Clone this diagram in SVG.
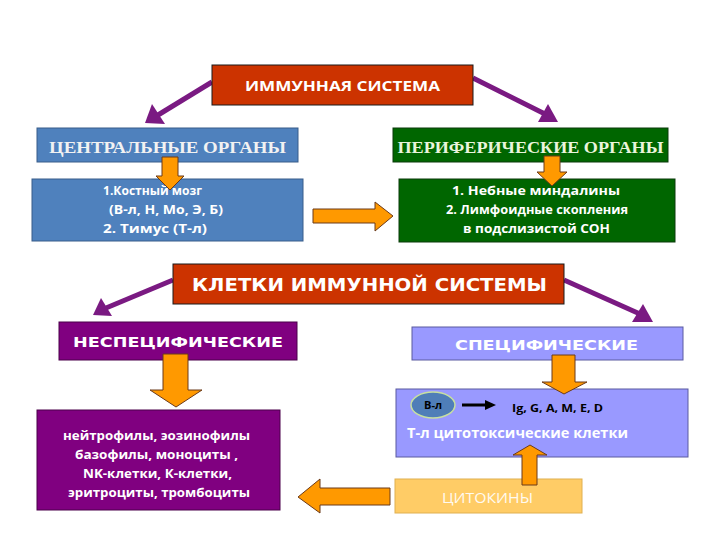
<svg xmlns="http://www.w3.org/2000/svg" width="720" height="540" viewBox="0 0 720 540">
<defs>
<style>
.t{font-family:"Open Sans","Noto Sans","Liberation Sans",sans-serif;font-weight:bold;fill:#ffffff}
.tm{font-family:"Liberation Serif","Times New Roman",serif;font-weight:bold}
.tv{font-family:"DejaVu Sans","Verdana",sans-serif;font-weight:bold;fill:#ffffff}
.oa{fill:#FF9900;stroke:#6B3A1A;stroke-width:1}
.pl{stroke:#7A1A82;stroke-width:5;fill:none}
.ph{fill:#7A1A82}
</style>
</defs>
<rect width="720" height="540" fill="#ffffff"/>

<g id="connectors">
  <line class="pl" x1="212" y1="82" x2="158" y2="115"/>
  <polygon class="ph" points="145,123 152,104 165,124"/>
  <line class="pl" x1="473" y1="78" x2="545" y2="114"/>
  <polygon class="ph" points="558,122 538,122 548,104"/>
  <line class="pl" x1="173" y1="280" x2="106" y2="308"/>
  <polygon class="ph" points="93,315 101,298 112,316"/>
  <line class="pl" x1="564" y1="280" x2="640" y2="314"/>
  <polygon class="ph" points="653,322 632,322 643,304"/>
</g>

<g id="immune-system">
  <rect x="212" y="65" width="261" height="40" fill="#CC3300" stroke="#1a1a1a" stroke-width="1"/>
  <text class="t" x="342.5" y="91" font-size="15" text-anchor="middle" textLength="195" lengthAdjust="spacingAndGlyphs">ИММУННАЯ СИСТЕМА</text>
</g>

<g id="central">
  <rect x="37" y="128" width="261" height="34" fill="#4F81BD" stroke="#385D8A" stroke-width="1"/>
  <text class="tm" x="167.5" y="153" font-size="16" fill="#F2F2F2" text-anchor="middle" textLength="237" lengthAdjust="spacingAndGlyphs">ЦЕНТРАЛЬНЫЕ ОРГАНЫ</text>
</g>

<g id="central-detail">
  <rect x="32" y="179" width="271" height="62" fill="#4F81BD" stroke="#385D8A" stroke-width="1"/>
  <text class="t" font-size="12.5">
    <tspan x="103" y="195" textLength="99" lengthAdjust="spacingAndGlyphs">1.Костный мозг</tspan>
    <tspan x="109" y="214" textLength="114" lengthAdjust="spacingAndGlyphs">(В-л, Н, Мо, Э, Б)</tspan>
    <tspan x="103" y="233" textLength="104" lengthAdjust="spacingAndGlyphs">2. Тимус (Т-л)</tspan>
  </text>
</g>

<g id="peripheral">
  <rect x="393" y="128" width="275" height="34" fill="#006600" stroke="#0a3a0a" stroke-width="1"/>
  <text class="tm" x="530.5" y="153" font-size="16" fill="#EAF5DD" text-anchor="middle" textLength="266" lengthAdjust="spacingAndGlyphs">ПЕРИФЕРИЧЕСКИЕ ОРГАНЫ</text>
</g>

<g id="peripheral-detail">
  <rect x="399" y="179" width="276" height="63" fill="#006600" stroke="#0a3a0a" stroke-width="1"/>
  <text class="t" font-size="12.5">
    <tspan x="452" y="195" textLength="168" lengthAdjust="spacingAndGlyphs">1.   Небные миндалины</tspan>
    <tspan x="446" y="214" textLength="182" lengthAdjust="spacingAndGlyphs">2. Лимфоидные скопления</tspan>
    <tspan x="463" y="233" textLength="147" lengthAdjust="spacingAndGlyphs">в подслизистой СОН</tspan>
  </text>
</g>

<g id="cells">
  <rect x="173" y="264" width="391" height="40" fill="#CC3300" stroke="#1a1a1a" stroke-width="1"/>
  <text class="tv" x="369.5" y="291" font-size="17" text-anchor="middle" textLength="355" lengthAdjust="spacingAndGlyphs">КЛЕТКИ ИММУННОЙ СИСТЕМЫ</text>
</g>

<g id="nonspecific">
  <rect x="59" y="322" width="238" height="38" fill="#800080" stroke="#4a004a" stroke-width="1"/>
  <text class="tv" x="178" y="347" font-size="14" text-anchor="middle" textLength="210" lengthAdjust="spacingAndGlyphs">НЕСПЕЦИФИЧЕСКИЕ</text>
</g>

<g id="nonspecific-detail">
  <rect x="37" y="410" width="243" height="100" fill="#800080" stroke="#4a004a" stroke-width="1"/>
  <text class="t" font-size="12.5">
    <tspan x="63" y="440" textLength="187" lengthAdjust="spacingAndGlyphs">нейтрофилы,  эозинофилы</tspan>
    <tspan x="75" y="459" textLength="163" lengthAdjust="spacingAndGlyphs">базофилы,  моноциты ,</tspan>
    <tspan x="83" y="478" textLength="149" lengthAdjust="spacingAndGlyphs">NK-клетки,  К-клетки,</tspan>
    <tspan x="68" y="497" textLength="182" lengthAdjust="spacingAndGlyphs">эритроциты, тромбоциты</tspan>
  </text>
</g>

<g id="specific">
  <rect x="412" y="327" width="271" height="33" fill="#9999FF" stroke="#5a5aa0" stroke-width="1"/>
  <text class="tv" x="546.5" y="350" font-size="14" text-anchor="middle" textLength="183" lengthAdjust="spacingAndGlyphs">СПЕЦИФИЧЕСКИЕ</text>
</g>

<g id="specific-detail">
  <rect x="396" y="389" width="292" height="68" fill="#9999FF" stroke="#5a5aa0" stroke-width="1"/>
  <text class="t" x="407" y="438" font-size="13.5" textLength="221" lengthAdjust="spacingAndGlyphs">Т-л  цитотоксические клетки</text>
  <text x="512" y="412" font-family="Open Sans,Noto Sans,Liberation Sans,sans-serif" font-weight="bold" font-size="11" fill="#000" textLength="91" lengthAdjust="spacingAndGlyphs">Ig, G, A, M, E, D</text>
</g>

<g id="b-lymph">
  <ellipse cx="433" cy="405" rx="22" ry="13" fill="#4F7EB8" stroke="#C8E0A0" stroke-width="1.5"/>
  <text x="433" y="409" font-family="Open Sans,Noto Sans,Liberation Sans,sans-serif" font-weight="bold" font-size="11" fill="#000" text-anchor="middle">В-л</text>
</g>

<g id="cytokines">
  <rect x="395" y="479" width="187" height="34" fill="#FFCC66" stroke="#e0b050" stroke-width="1"/>
  <text x="487.5" y="503" font-family="Open Sans,Noto Sans,Liberation Sans,sans-serif" font-size="14" fill="#FFFAF0" text-anchor="middle" textLength="91" lengthAdjust="spacingAndGlyphs">ЦИТОКИНЫ</text>
</g>

<g id="block-arrows">
  <polygon class="oa" points="162,157 178,157 178,176 184,176 170,190 156,176 162,176"/>
  <polygon class="oa" points="544,156 560,156 560,172 567,172 552,186 537,172 544,172"/>
  <polygon class="oa" points="313,209 375,209 375,202 393,216 375,231 375,223 313,223"/>
  <polygon class="oa" points="163,354 188,354 188,390 202,390 176,407 150,390 163,390"/>
  <polygon class="oa" points="552,355 575,355 575,382 587,382 564,394 542,382 552,382"/>
  <polygon class="oa" points="522,485 537,485 537,455 547,455 530,445 513,455 522,455"/>
  <polygon class="oa" points="390,488 390,505 320,505 320,513 298,497 320,479 320,488"/>
  <line x1="462" y1="405" x2="486" y2="405" stroke="#000" stroke-width="3"/>
  <polygon points="496,405 485,400 485,410" fill="#000"/>
</g>
</svg>
